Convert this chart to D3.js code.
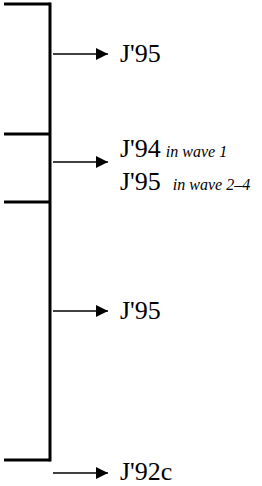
<!DOCTYPE html>
<html>
<head>
<meta charset="utf-8">
<script src="https://cdn.jsdelivr.net/npm/d3@7"></script>
<style>
  html, body { margin: 0; padding: 0; background: #fff; }
  svg { display: block; }
</style>
</head>
<body>
<div id="chart"></div>
<script>
// Bracket boundaries (vertical position units, top to bottom)
const boundaries = [0, 130, 198, 456];
// Arrow positions (same units) and their labels
const arrowPos = [50, 158, 307, 469];
const mainLabels = [["J'95"], ["J'94", "J'95"], ["J'95"], ["J'92c"]];
const noteLabels = [[""], ["in wave 1", "in wave 2\u20134"], [""], [""]];

const W = 262, H = 486;
const svg = d3.select("#chart").append("svg").attr("width", W).attr("height", H);

const y = d3.scaleLinear().domain([0, 456]).range([4, 460]);
const xLeft = 4, xBar = 50;
const serif = "Liberation Serif";

const g = svg.append("g");

// vertical spine
g.append("line")
  .attr("x1", xBar).attr("x2", xBar)
  .attr("y1", y(boundaries[0]) - 1.5).attr("y2", y(boundaries[boundaries.length - 1]) + 1.5)
  .attr("stroke", "#000").attr("stroke-width", 3);

// horizontal ticks
g.selectAll("line.tick").data(boundaries).join("line")
  .attr("class", "tick")
  .attr("x1", xLeft).attr("x2", xBar)
  .attr("y1", d => y(d)).attr("y2", d => y(d))
  .attr("stroke", "#000").attr("stroke-width", 3);

// arrowhead
svg.append("defs").append("marker")
  .attr("id", "ah").attr("viewBox", "0 0 12 12")
  .attr("refX", 12).attr("refY", 6)
  .attr("markerWidth", 12).attr("markerHeight", 12)
  .attr("markerUnits", "userSpaceOnUse")
  .attr("orient", "auto")
  .append("path").attr("d", "M0,0 L12,6 L0,12 Z").attr("fill", "#000");

g.selectAll("line.arrow").data(arrowPos).join("line")
  .attr("class", "arrow")
  .attr("x1", 53).attr("x2", 108)
  .attr("y1", d => y(d)).attr("y2", d => y(d))
  .attr("stroke", "#000").attr("stroke-width", 1.3)
  .attr("marker-end", "url(#ah)");

// labels
const lineGap = 33.5;
arrowPos.forEach((p, i) => {
  const n = mainLabels[i].length;
  const base = Math.min(y(p) + 8 - (n - 1) * 13.5, H - 6);
  mainLabels[i].forEach((lab, j) => {
    const t = g.append("text")
      .attr("x", 120).attr("y", base + j * lineGap)
      .style("font-family", serif)
      .style("font-size", "26px").attr("fill", "#000");
    t.append("tspan").text(lab)
      .style("font-family", serif).style("font-size", "26px");
    const note = noteLabels[i][j];
    if (note) {
      t.append("tspan").text(note)
        .attr("dx", j === 0 ? 5 : 12)
        .style("font-family", serif)
        .style("font-style", "italic").style("font-size", "16px");
    }
  });
});
</script>
</body>
</html>
